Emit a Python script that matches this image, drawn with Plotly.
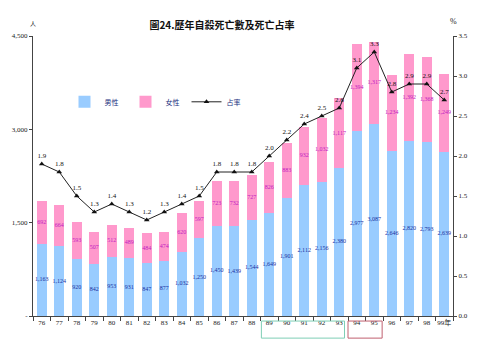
import plotly.graph_objects as go

years = ["76","77","78","79","80","81","82","83","84","85","86","87","88","89","90","91","92","93","94","95","96","97","98","99年"]
male = [1163,1124,920,842,953,931,847,877,1032,1250,1450,1439,1544,1649,1901,2112,2156,2380,2977,3087,2646,2820,2793,2639]
female = [692,664,593,507,512,489,484,474,620,597,723,732,727,826,883,932,1032,1117,1394,1317,1234,1392,1368,1249]
rate = [1.9,1.8,1.5,1.3,1.4,1.3,1.2,1.3,1.4,1.5,1.8,1.8,1.8,2.0,2.2,2.4,2.5,2.6,3.1,3.3,2.8,2.9,2.9,2.7]

SERIF = "Liberation Serif, Noto Sans CJK TC"
fmt = lambda v: f"{v:,}"

fig = go.Figure()
fig.add_trace(go.Bar(x=years, y=male, name="男性", marker_color="#99CCFF", marker_line_width=0))
fig.add_trace(go.Bar(x=years, y=female, name="女性", marker_color="#FF99CC", marker_line_width=0))
fig.add_trace(go.Scatter(x=years, y=[m/2 for m in male], mode="text", text=[fmt(v) for v in male],
                         textfont=dict(size=6, color="#1a2fa0", family=SERIF), showlegend=False, hoverinfo="skip"))
fig.add_trace(go.Scatter(x=years, y=[m + f/2 for m, f in zip(male, female)], mode="text", text=[fmt(v) for v in female],
                         textfont=dict(size=6, color="#c020c0", family=SERIF), showlegend=False, hoverinfo="skip"))
fig.add_trace(go.Scatter(x=years, y=rate, name="占率", yaxis="y2", mode="lines+markers+text",
                         text=[f"{v:.1f}" for v in rate], textposition="top center",
                         textfont=dict(size=7, color="#111111", family=SERIF),
                         line=dict(color="#222222", width=1),
                         marker=dict(symbol="triangle-up", size=5, color="#111111")))

fig.update_layout(
    width=480, height=344, barmode="stack", bargap=0.42,
    paper_bgcolor="white", plot_bgcolor="white",
    margin=dict(l=27, r=25, t=36, b=28),
    font=dict(family=SERIF, size=7, color="#222222"),
    title=dict(text="<b>圖24.歷年自殺死亡數及死亡占率</b>", x=0.4625, xanchor="center",
               y=1 - 25/344, yanchor="middle", yref="container",
               font=dict(size=10, family="Noto Sans CJK TC", color="#111111")),
    legend=dict(orientation="h", x=0.075, y=0.765, xanchor="left", yanchor="middle",
                font=dict(size=7, color="#1a2f80", family="Noto Sans CJK TC"),
                bgcolor="rgba(0,0,0,0)", itemwidth=30, entrywidth=16, traceorder="normal"),
    xaxis=dict(type="category", range=[-0.5, 23.5], showline=True, linecolor="#444444", linewidth=1,
               ticks="outside", tickson="boundaries", ticklen=4, tickcolor="#444444", tickangle=0,
               tickfont=dict(size=7, family=SERIF), showgrid=False),
    yaxis=dict(range=[0, 4500], tickvals=[0, 1500, 3000, 4500], ticktext=["-", "1,500", "3,000", "4,500"],
               showline=True, linecolor="#444444", linewidth=1, ticks="outside", ticklen=3,
               tickcolor="#444444", showgrid=False, zeroline=False, tickfont=dict(size=7, family=SERIF)),
    yaxis2=dict(range=[0, 3.5], overlaying="y", side="right", dtick=0.5, tickformat=".1f",
                showline=True, linecolor="#444444", linewidth=1, ticks="outside", ticklen=3,
                tickcolor="#444444", showgrid=False, zeroline=False, tickfont=dict(size=7, family=SERIF)),
    shapes=[
        dict(type="rect", xref="x", yref="paper", x0=12.55, x1=17.3, y0=-0.018, y1=-0.079,
             line=dict(color="#7fcfb5", width=1)),
        dict(type="rect", xref="x", yref="paper", x0=17.5, x1=19.45, y0=-0.018, y1=-0.079,
             line=dict(color="#c06070", width=1)),
    ],
    annotations=[
        dict(text="人", xref="paper", yref="paper", x=0, y=1.02, xanchor="center", yanchor="bottom",
             showarrow=False, font=dict(size=6, family="Noto Sans CJK TC")),
        dict(text="%", xref="paper", yref="paper", x=1, y=1.03, xanchor="center", yanchor="bottom",
             showarrow=False, font=dict(size=8)),
    ],
)

fig.write_html("out.html")
